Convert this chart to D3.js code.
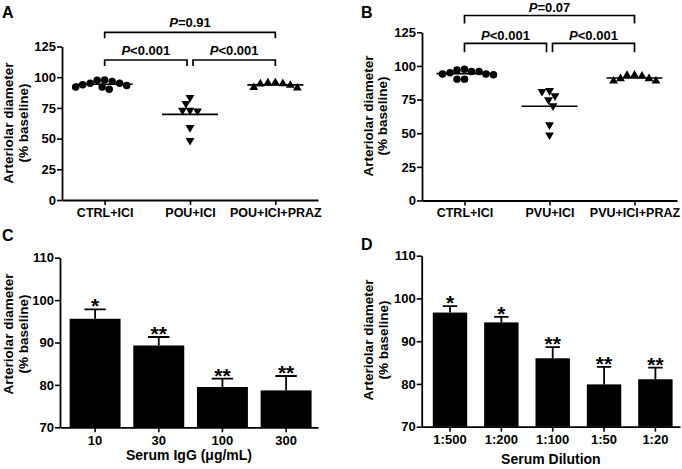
<!DOCTYPE html>
<html><head><meta charset="utf-8">
<script src="https://cdn.jsdelivr.net/npm/d3@7"></script>
<style>
body{margin:0;background:#fff}
svg{display:block}
text{font-family:"Liberation Sans",Arial,sans-serif;fill:#000}
</style>
</head><body>
<script>
// ---------------- data ----------------
const catsA = ["CTRL+ICI", "POU+ICI", "POU+ICI+PRAZ"];
const ctrlA = [95.0, 93.9, 92.0, 97.7, 90.1, 92.0, 97.5, 93.2, 95.0, 96.6];
const pouA  = [73.0, 72.5, 83.5, 59.0, 48.5, 73.0, 78.5];
const prazA = [95.5, 94.7, 93.4, 91.2, 91.6, 94.5, 95.3];
const bracketsA = [
  {from: 0, to: 1, label: "<0.001", level: 0},
  {from: 1, to: 2, label: "<0.001", level: 0},
  {from: 0, to: 2, label: "=0.91", level: 1}
];

const catsB = ["CTRL+ICI", "PVU+ICI", "PVU+ICI+PRAZ"];
const ctrlB = [95.8, 95.0, 94.0, 90.2, 97.6, 90.2, 94.0, 97.0, 93.5, 95.8];
const pvuB  = [77.8, 81.7, 81.0, 74.8, 70.3, 56.2, 48.7];
const prazB = [93.2, 92.5, 90.5, 88.8, 88.8, 90.5, 93.0];
const bracketsB = [
  {from: 0, to: 1, label: "<0.001", level: 0},
  {from: 1, to: 2, label: "<0.001", level: 0},
  {from: 0, to: 2, label: "=0.07", level: 1}
];
const scatterTicks = [0, 25, 50, 75, 100, 125];

const catsC = ["10", "30", "100", "300"];
const meanC = [95.6, 89.3, 79.5, 78.7];
const errC  = [2.2, 2.0, 2.0, 3.4];
const starsC = ["*", "**", "**", "**"];

const catsD = ["1:500", "1:200", "1:100", "1:50", "1:20"];
const meanD = [96.7, 94.4, 86.0, 79.9, 81.1];
const errD  = [1.5, 1.3, 2.6, 4.1, 2.7];
const starsD = ["*", "*", "**", "**", "**"];
const barTicks = [70, 80, 90, 100, 110];

const yTitle1 = "Arteriolar diameter";
const yTitle2 = "(% baseline)";

// ---------------- drawing ----------------
const svg = d3.select("body").append("svg").attr("width", 682).attr("height", 469);

function styleAxis(sel, fs) {
  sel.selectAll("path.domain").attr("stroke", "#000").attr("stroke-width", 1.8);
  sel.selectAll(".tick line").attr("stroke", "#000").attr("stroke-width", 1.6);
  sel.selectAll(".tick text").attr("font-size", fs).attr("font-weight", "bold")
     .attr("font-family", '"Liberation Sans",Arial,sans-serif').attr("fill", "#000");
}

function yTitle(x1, x2, cy) {
  svg.append("text").attr("transform", `translate(${x1},${cy}) rotate(-90)`)
    .attr("text-anchor", "middle").attr("font-size", 13.5).attr("font-weight", "bold").text(yTitle1);
  svg.append("text").attr("transform", `translate(${x2},${cy}) rotate(-90)`)
    .attr("text-anchor", "middle").attr("font-size", 13.5).attr("font-weight", "bold").text(yTitle2);
}

function panelLetter(t, x, y) {
  svg.append("text").attr("x", x).attr("y", y).attr("font-size", 16).attr("font-weight", "bold").text(t);
}

function swarm(vals, y, d) {
  const idx = vals.map((v, i) => i).sort((a, b) => vals[b] - vals[a]);
  const placed = [];
  const out = new Array(vals.length);
  idx.forEach(i => {
    const py = y(vals[i]);
    let best = 0;
    for (let s = 0; s < 400; s++) {
      const off = (s % 2 === 0 ? 1 : -1) * Math.ceil(s / 2) * 0.5;
      if (placed.every(p => (p.x - off) ** 2 + (p.y - py) ** 2 >= d * d)) { best = off; break; }
    }
    placed.push({x: best, y: py});
    out[i] = {x: best, y: py};
  });
  return out;
}

function pLabel(x, y, label) {
  const t = svg.append("text").attr("x", x).attr("y", y).attr("text-anchor", "middle")
    .attr("font-size", 13).attr("font-weight", "bold");
  t.append("tspan").attr("font-style", "italic").text("P");
  t.append("tspan").text(label);
}

function scatterPanel(o) {
  const x = d3.scalePoint().domain(o.cats).range(o.xr).padding(0.5);
  const y = d3.scaleLinear().domain([0, 125]).range(o.yr);
  const gx = svg.append("g").attr("transform", `translate(0,${o.yr[0]})`)
    .call(d3.axisBottom(x).tickSize(5).tickSizeOuter(0).tickPadding(3));
  styleAxis(gx, 12.5);
  const gy = svg.append("g").attr("transform", `translate(${o.xr[0]},0)`)
    .call(d3.axisLeft(y).tickValues(scatterTicks).tickSize(5).tickSizeOuter(0).tickPadding(1));
  styleAxis(gy, 13);

  const shapes = [d3.symbolCircle, d3.symbolTriangle, d3.symbolTriangle];
  const rot = [0, 180, 0];
  const sizes = [44, 34, 34];
  o.groups.forEach((vals, gi) => {
    const cx = x(o.cats[gi]);
    const pts = swarm(vals, y, 7.3);
    svg.append("g").selectAll("path").data(pts).join("path")
      .attr("d", d3.symbol().type(shapes[gi]).size(sizes[gi]))
      .attr("transform", p => `translate(${cx + p.x},${p.y}) rotate(${rot[gi]})`)
      .attr("fill", "#000");
    const m = y(d3.mean(vals));
    svg.append("line").attr("x1", cx - 28).attr("x2", cx + 28).attr("y1", m).attr("y2", m)
      .attr("stroke", "#000").attr("stroke-width", 1.6);
  });

  o.brackets.forEach(b => {
    const lv = o.levels[b.level];
    let x1 = x(o.cats[b.from]), x2 = x(o.cats[b.to]);
    if (b.level === 0) {
      if (b.from === 1) x1 += 3; else x2 -= 3;
    }
    svg.append("path").attr("d", `M${x1},${lv.drop}V${lv.h}H${x2}V${lv.drop}`)
      .attr("fill", "none").attr("stroke", "#000").attr("stroke-width", 1.7);
    pLabel((x1 + x2) / 2, lv.text, b.label);
  });
}

function barPanel(o) {
  const x = d3.scaleBand().domain(o.cats).range(o.xr).paddingInner(o.pi).paddingOuter(o.po).align(0.6);
  const y = d3.scaleLinear().domain([70, 110]).range(o.yr);
  svg.append("g").selectAll("rect").data(o.vals).join("rect")
    .attr("x", (d, i) => x(o.cats[i])).attr("width", x.bandwidth())
    .attr("y", d => y(d)).attr("height", d => y(70) - y(d)).attr("fill", "#000");
  const cw = x.bandwidth() * 0.42;
  o.vals.forEach((v, i) => {
    const cx = x(o.cats[i]) + x.bandwidth() / 2;
    const top = y(v + o.err[i]);
    svg.append("path").attr("d", `M${cx},${y(v)}V${top}M${cx - cw / 2},${top}H${cx + cw / 2}`)
      .attr("stroke", "#000").attr("stroke-width", 1.8).attr("fill", "none");
    svg.append("text").attr("x", cx).attr("y", top + 4).attr("text-anchor", "middle")
      .attr("font-size", 21).attr("font-weight", "bold").text(o.stars[i]);
  });
  const gx = svg.append("g").attr("transform", `translate(0,${o.yr[0]})`)
    .call(d3.axisBottom(x).tickSize(5).tickSizeOuter(0).tickPadding(3));
  styleAxis(gx, 13);
  const gy = svg.append("g").attr("transform", `translate(${o.xr[0]},0)`)
    .call(d3.axisLeft(y).tickValues(barTicks).tickSize(5).tickSizeOuter(0).tickPadding(1));
  styleAxis(gy, 13);
  svg.append("text").attr("x", (o.xr[0] + o.xr[1]) / 2).attr("y", o.titleY).attr("text-anchor", "middle")
    .attr("font-size", 14).attr("font-weight", "bold").text(o.title);
}

// Panel A
scatterPanel({
  cats: catsA, groups: [ctrlA, pouA, prazA], brackets: bracketsA,
  xr: [62, 318], yr: [200, 46.5],
  levels: [{h: 60, drop: 66, text: 54.5}, {h: 32.3, drop: 38.3, text: 27.4}]
});
panelLetter("A", 2, 18);
yTitle(12.5, 28, 123);

// Panel B
scatterPanel({
  cats: catsB, groups: [ctrlB, pvuB, prazB], brackets: bracketsB,
  xr: [422, 677], yr: [200.5, 32.3],
  levels: [{h: 43.3, drop: 52.3, text: 39.7}, {h: 15.5, drop: 23.5, text: 11.5}]
});
panelLetter("B", 361, 18);
yTitle(372.5, 387, 116);

// Panel C
barPanel({
  cats: catsC, vals: meanC, err: errC, stars: starsC,
  xr: [60, 318], yr: [427.3, 257.7], pi: 0.2, po: 0.126,
  title: "Serum IgG (\u03bcg/mL)", titleY: 460
});
panelLetter("C", 2, 241);
yTitle(13, 28, 334);

// Panel D
barPanel({
  cats: catsD, vals: meanD, err: errD, stars: starsD,
  xr: [421.7, 680], yr: [426.7, 255.7], pi: 0.33, po: 0.18,
  title: "Serum Dilution", titleY: 464
});
panelLetter("D", 361, 250);
yTitle(373, 387.5, 340);
</script>
</body></html>
